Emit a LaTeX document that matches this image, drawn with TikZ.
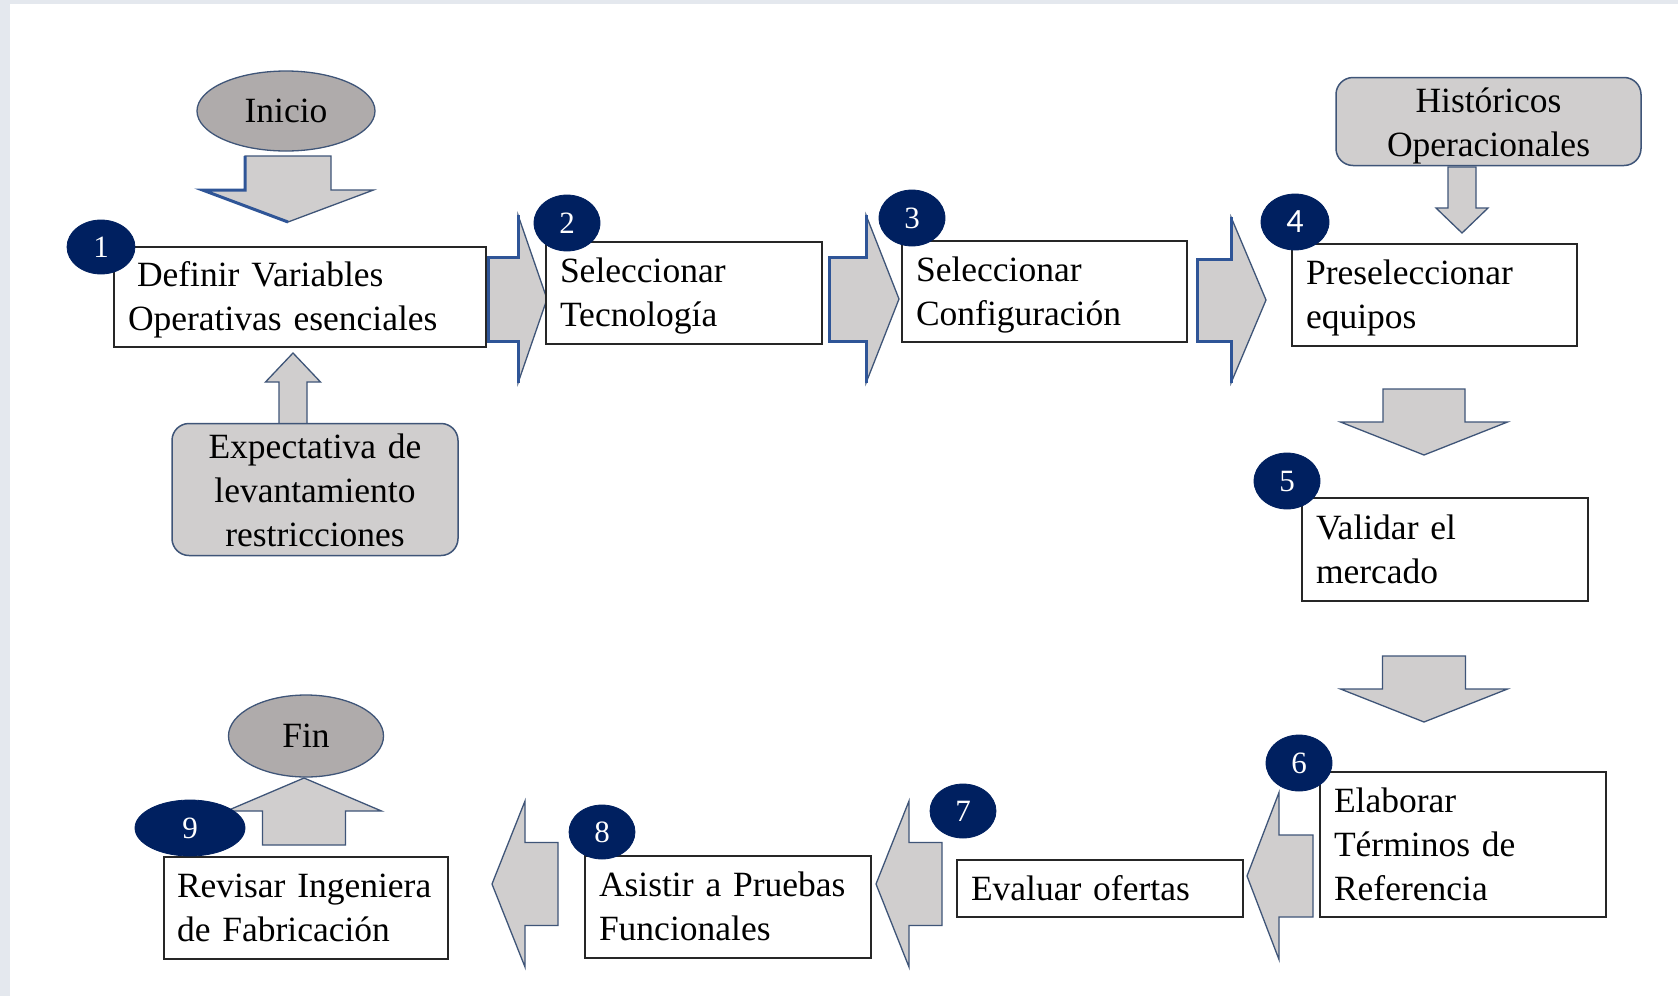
\documentclass[tikz,border=0pt]{standalone}
\usepackage{fontspec}
\setmainfont{Liberation Serif}
\newfontfamily\numsans{Carlito}
\usetikzlibrary{shapes.geometric}
\definecolor{arrfill}{HTML}{D0CECE}
\definecolor{arrline}{HTML}{3F5578}
\definecolor{shadeblue}{HTML}{2F5597}
\definecolor{ovalfill}{HTML}{AFABAB}
\definecolor{navy}{HTML}{002060}
\definecolor{boxline}{HTML}{262626}
\definecolor{slidebg}{HTML}{E4E8EE}
\newcommand\tstrut{\rule[-10.5pt]{0pt}{44pt}}
\newcommand\istrut{\rule[-9pt]{0pt}{44pt}}
\newcommand\blockH[6]{\draw[barrow] ({#1},{#4-#5}) -- ({#2},{#4-#5}) -- ({#2},{#4-#6}) -- ({#3},{#4}) -- ({#2},{#4+#6}) -- ({#2},{#4+#5}) -- ({#1},{#4+#5}) -- cycle;}
\newcommand\blockV[6]{\draw[barrow] ({#4-#5},{#1}) -- ({#4-#5},{#2}) -- ({#4-#6},{#2}) -- ({#4},{#3}) -- ({#4+#6},{#2}) -- ({#4+#5},{#2}) -- ({#4+#5},{#1}) -- cycle;}
\newcommand\shadeH[5]{\draw[shadeedge] ({#2},{#3-#5}) -- ({#2},{#3-#4}) -- ({#1},{#3-#4}) -- ({#1},{#3+#4}) -- ({#2},{#3+#4}) -- ({#2},{#3+#5});}
\tikzset{
  barrow/.style={fill=arrfill, draw=arrline, line width=1.3pt, line join=miter},
  shadeedge/.style={draw=shadeblue, line width=3pt, line join=miter},
  stepbox/.style={rectangle, draw=boxline, fill=white, line width=1.5pt, inner xsep=14pt, inner ysep=0pt, align=left, font=\fontsize{35.5}{44}\selectfont},
  infobox/.style={rectangle, rounded corners=17pt, draw=arrline, fill=arrfill, line width=1.5pt, inner xsep=10pt, inner ysep=0pt, align=center, font=\fontsize{35.5}{44}\selectfont},
  oval/.style={ellipse, draw=arrline, fill=ovalfill, line width=1.3pt, inner sep=0pt, font=\fontsize{35.5}{42}\selectfont},
  numdot/.style={ellipse, draw=navy, fill=navy, line width=0.8pt, inner sep=0pt, text=white, minimum width=66pt, minimum height=56pt, font=\fontsize{31}{31}\selectfont}
}
\begin{document}
\begin{tikzpicture}[x=1pt, y=-1pt]
\useasboundingbox (0,0) rectangle (1678,996);
\fill[white] (0,0) rectangle (1678,996);
\fill[slidebg] (0,0) rectangle (1678,4);
\fill[slidebg] (0,0) rectangle (10,996);

% block arrows
\blockV{156}{190}{222}{288}{43}{85.5}
\draw[shadeedge] (288,222) -- (202.5,190) -- (245,190) -- (245,156);
\blockV{424}{382}{353}{293}{14}{27.5}
\blockH{488}{518}{547}{299}{42}{84}
\shadeH{488}{518}{299}{42}{84}
\blockH{829}{866}{899}{299}{42}{84}
\shadeH{829}{866}{299}{42}{84}
\blockH{1197}{1231}{1266}{300}{41}{83}
\shadeH{1197}{1231}{300}{41}{83}
\blockV{167}{208}{233}{1462}{14}{26}
\blockV{389}{422}{455}{1424}{41}{83.5}
\blockV{656}{689}{722}{1424}{41.5}{83.5}
\blockH{1313}{1279}{1247}{876}{41}{83.5}
\blockH{942}{909}{876}{884}{41.5}{83}
\blockH{558}{525}{492}{884}{41.5}{83}
\blockV{845}{811}{778}{304}{41.5}{77.5}

% step boxes
\node[stepbox, minimum width=372pt, minimum height=100pt, text width=344pt] (b1) at (300,297) {\tstrut\hspace{9pt}Definir Variables\\\tstrut Operativas esenciales};
\node[stepbox, minimum width=276pt, minimum height=102pt, text width=248pt] (b2) at (684,293) {\tstrut Seleccionar\\\tstrut Tecnología};
\node[stepbox, minimum width=285pt, minimum height=101pt, text width=257pt] (b3) at (1044.5,291.5) {\tstrut Seleccionar\\\tstrut Configuración};
\node[stepbox, minimum width=285pt, minimum height=102pt, text width=257pt] (b4) at (1434.5,295) {\tstrut Preseleccionar\\\tstrut equipos};
\node[stepbox, minimum width=286pt, minimum height=103pt, text width=258pt] (b5) at (1445,549.5) {\tstrut Validar el\\\tstrut mercado};
\node[stepbox, minimum width=286pt, minimum height=145pt, text width=258pt] (b6) at (1463,844.5) {\tstrut Elaborar\\\tstrut Términos de\\\tstrut Referencia};
\node[stepbox, minimum width=286pt, minimum height=57pt, text width=258pt] (b7) at (1100,888.5) {\tstrut Evaluar ofertas};
\node[stepbox, minimum width=286pt, minimum height=102pt, text width=258pt] (b8) at (728,907) {\tstrut Asistir a Pruebas\\\tstrut Funcionales};
\node[stepbox, minimum width=284pt, minimum height=102pt, text width=258pt, inner xsep=13pt] (b9) at (306,908) {\tstrut Revisar Ingeniera\\\tstrut de Fabricación};

% info boxes
\node[infobox, minimum width=305pt, minimum height=81pt, text width=285pt] (hist) at (1488.5,121.5) {\istrut Históricos\\\istrut Operacionales};
\node[infobox, minimum width=286pt, minimum height=127pt, text width=266pt] (expe) at (315,489.5) {\istrut Expectativa de\\\istrut levantamiento\\\istrut restricciones};

% start / end
\node[oval, minimum width=178pt, minimum height=80pt] (inicio) at (286,111) {Inicio};
\node[oval, minimum width=155pt, minimum height=82pt] (fin) at (306,736) {Fin};

% step numbers
\node[numdot, minimum width=68pt, minimum height=54pt] (c1) at (101,247) {1};
\node[numdot] (c2) at (567,223) {2};
\node[numdot] (c3) at (912,218) {3};
\node[numdot, minimum width=68pt] (c4) at (1295,222) {\numsans\fontsize{34}{34}\selectfont 4};
\node[numdot] (c5) at (1287,481) {5};
\node[numdot] (c6) at (1299,763) {6};
\node[numdot, minimum height=54pt] (c7) at (963,811) {7};
\node[numdot, minimum height=54pt] (c8) at (602,832) {8};
\node[numdot, minimum width=110pt] (c9) at (190,828) {9};
\end{tikzpicture}
\end{document}
